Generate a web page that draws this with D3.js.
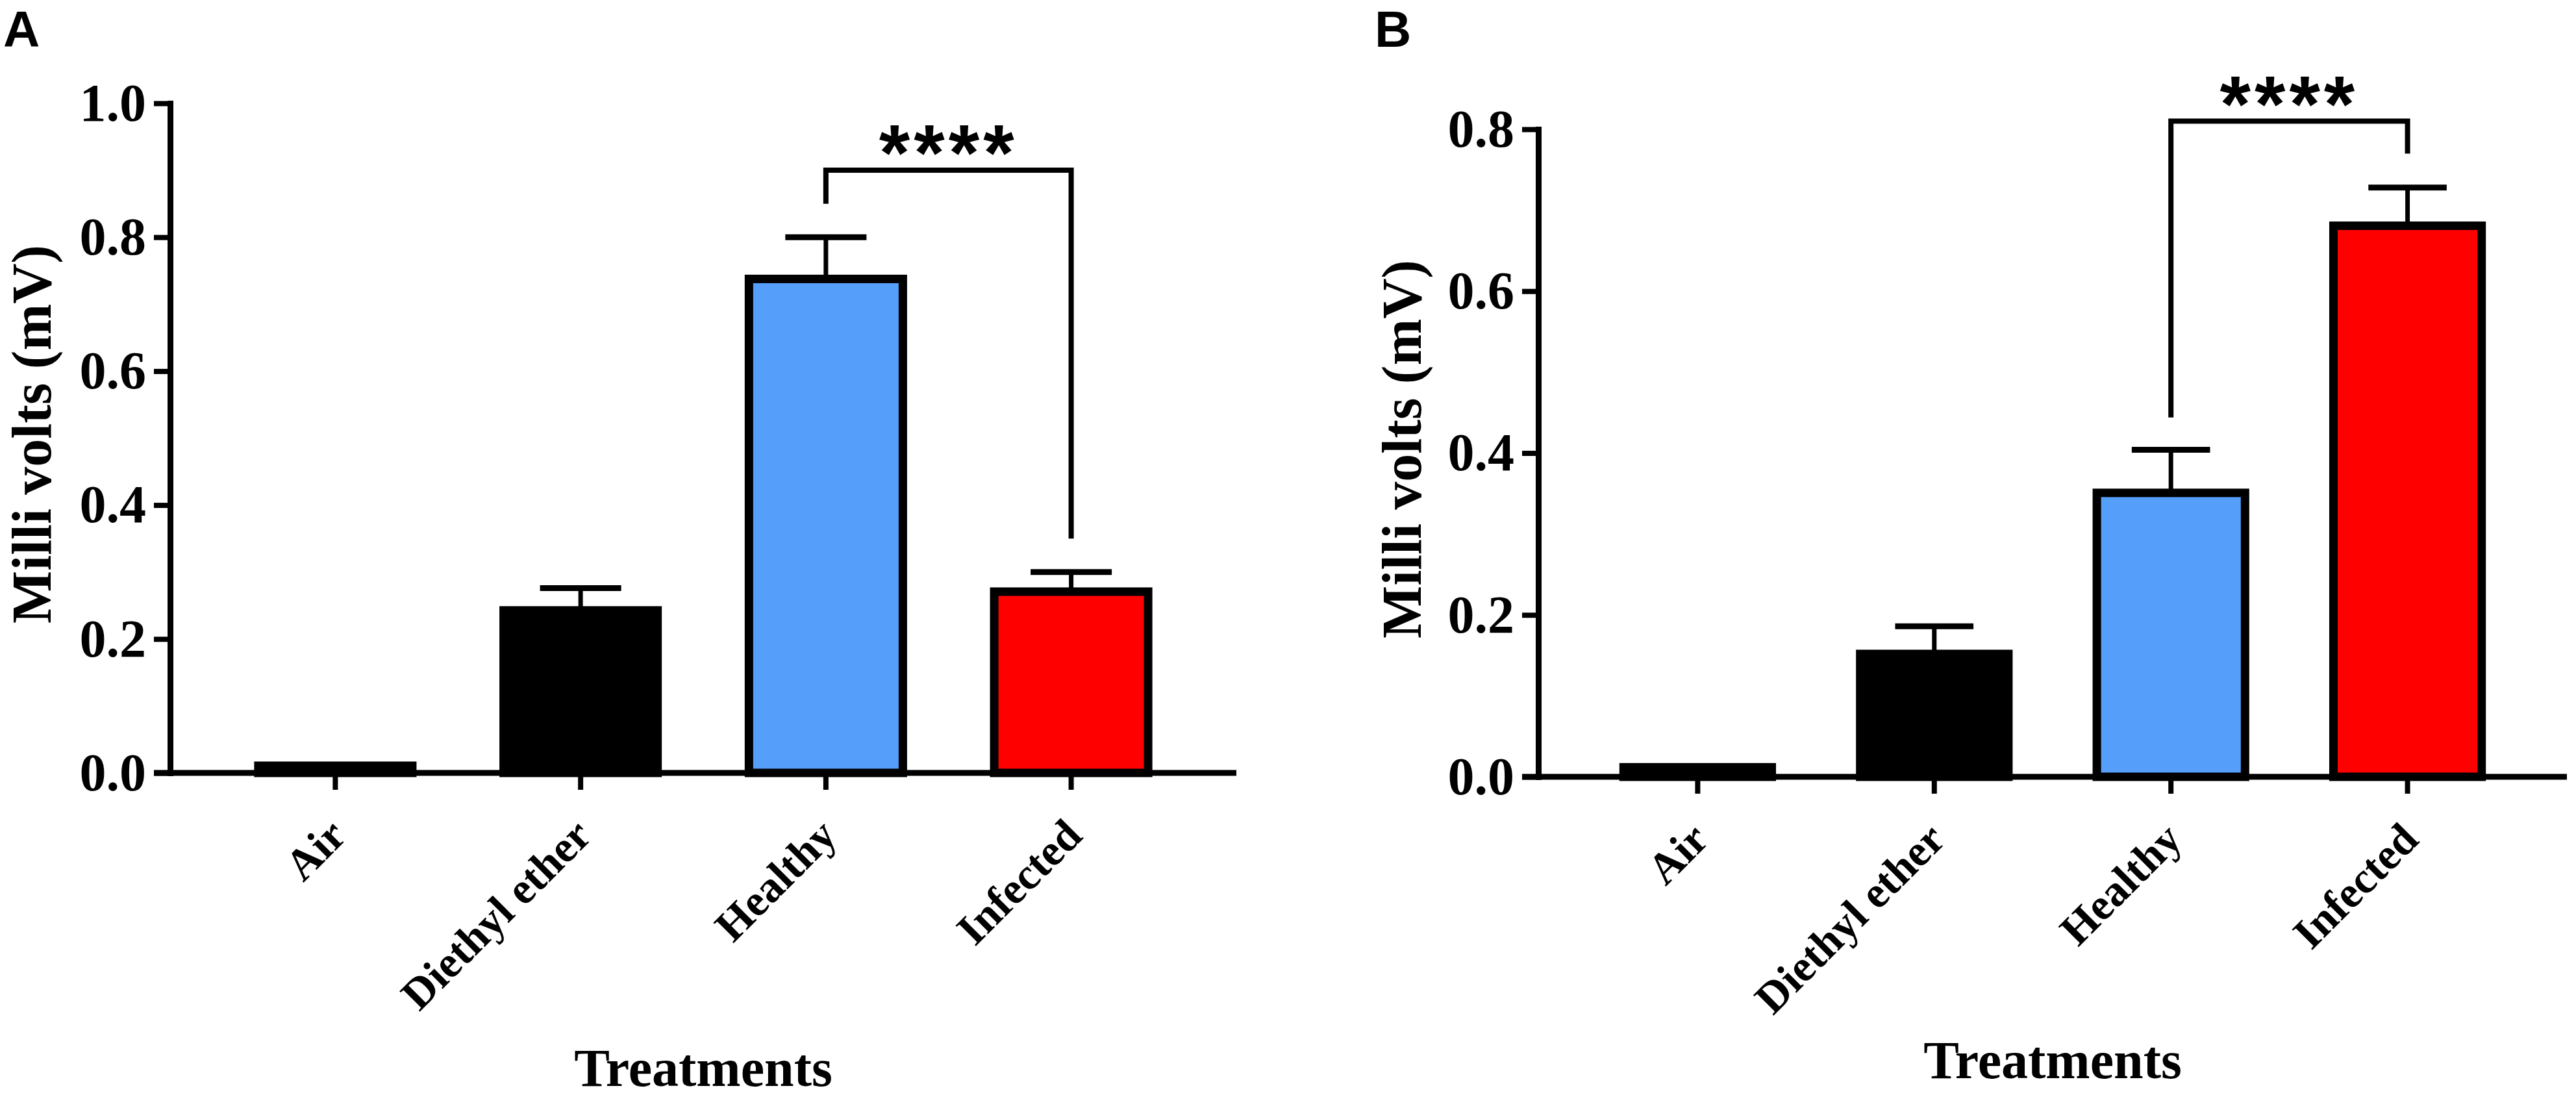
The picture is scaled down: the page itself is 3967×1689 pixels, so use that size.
<!DOCTYPE html>
<html lang="en">
<head>
    <meta charset="UTF-8">
    <title>Milli volts by treatment</title>
    <script src="https://d3js.org/d3.v7.min.js"></script>
    <style>
        body {
            margin: 0;
            background: #fff;
        }
        .serif {
            font-family: "Liberation Serif", "Times New Roman", serif;
            font-weight: bold;
            fill: #000;
        }
        .sans {
            font-family: "Liberation Sans", Arial, sans-serif;
            font-weight: bold;
            fill: #000;
        }
    </style>
</head>
<body>
    <div id="chart"></div>

    <script>
        // Data
        const categories = ["Air", "Diethyl ether", "Healthy", "Infected"];
        const barColors = ["#000000", "#000000", "#559ffb", "#ff0000"];

        // Panel A
        const meansA = [0.017, 0.249, 0.744, 0.277];
        const errTopA = [0.017, 0.276, 0.800, 0.300];
        const ticksA = [0.0, 0.2, 0.4, 0.6, 0.8, 1.0];
        const bracketA = [0.90, 0.85, 0.35];   // top, left end, right end

        // Panel B
        const meansB = [0.017, 0.157, 0.356, 0.686];
        const errTopB = [0.017, 0.186, 0.404, 0.728];
        const ticksB = [0.0, 0.2, 0.4, 0.6, 0.8];
        const bracketB = [0.81, 0.444, 0.77];

        const yTitle = "Milli volts (mV)";
        const xTitle = "Treatments";
        const sigLabel = "****";

        const W = 3967, H = 1689;
        const svg = d3.select("#chart")
            .append("svg")
            .attr("width", W)
            .attr("height", H);

        // Layout of the two panels (pixel positions)
        const panels = [
            { letter: "A", letterX: 5, means: meansA, errs: errTopA, ticks: ticksA, bracket: bracketA,
              left: 262, right: 1904, top: 159, bottom: 1190, ymax: 1.0, titleX: 78, xTitleY: 1672 },
            { letter: "B", letterX: 2117, means: meansB, errs: errTopB, ticks: ticksB, bracket: bracketB,
              left: 2369, right: 3953, top: 199, bottom: 1196, ymax: 0.8, titleX: 2188, xTitleY: 1660 }
        ];

        const lineW = 9;     // axis line
        const barStroke = 13;

        panels.forEach(p => {
            const g = svg.append("g");

            const x = d3.scaleBand()
                .domain(categories)
                .range([p.left, p.right])
                .paddingInner(0.338)
                .paddingOuter(0.3425);

            const y = d3.scaleLinear()
                .domain([0, p.ymax])
                .range([p.bottom, p.top]);

            const bw = x.bandwidth();

            // Bars
            g.selectAll(".bar")
                .data(categories)
                .enter()
                .append("rect")
                .attr("x", d => x(d) + barStroke / 2)
                .attr("width", bw - barStroke)
                .attr("y", (d, i) => y(p.means[i]) + barStroke / 2)
                .attr("height", (d, i) => Math.max(0, y(0) - y(p.means[i]) - barStroke / 2))
                .attr("fill", (d, i) => barColors[i])
                .attr("stroke", "#000")
                .attr("stroke-width", barStroke);

            // Error bars (upper only)
            categories.forEach((c, i) => {
                if (p.errs[i] <= p.means[i]) return;
                const cx = x(c) + bw / 2;
                g.append("line")
                    .attr("x1", cx).attr("x2", cx)
                    .attr("y1", y(p.means[i]) + barStroke / 2)
                    .attr("y2", y(p.errs[i]))
                    .attr("stroke", "#000")
                    .attr("stroke-width", 7);
                g.append("line")
                    .attr("x1", cx - bw * 0.25).attr("x2", cx + bw * 0.25)
                    .attr("y1", y(p.errs[i])).attr("y2", y(p.errs[i]))
                    .attr("stroke", "#000")
                    .attr("stroke-width", 9);
            });

            // Y axis
            const yAxis = g.append("g")
                .attr("transform", `translate(${p.left},0)`)
                .call(d3.axisLeft(y)
                    .tickValues(p.ticks)
                    .tickFormat(d3.format(".1f"))
                    .tickSize(25)
                    .tickSizeOuter(0)
                    .tickPadding(12));
            yAxis.select(".domain").attr("stroke-width", lineW).attr("stroke-linecap", "square");
            yAxis.selectAll(".tick line").attr("stroke-width", 8);
            yAxis.selectAll(".tick text")
                .attr("class", "serif")
                .style("font-size", "82px");

            // X axis
            const xAxis = g.append("g")
                .attr("transform", `translate(0,${p.bottom})`)
                .call(d3.axisBottom(x).tickSize(26).tickSizeOuter(0));
            xAxis.select(".domain").attr("stroke-width", lineW)
                .attr("d", `M${p.left - 25},0H${p.right}`);
            xAxis.selectAll(".tick line").attr("stroke-width", 8);
            xAxis.selectAll(".tick text")
                .attr("class", "serif")
                .style("font-size", "68px")
                .attr("text-anchor", "end")
                .attr("dy", null)
                .attr("y", null)
                .attr("transform", "translate(20,100) rotate(-45)");

            // Significance bracket
            const [bTop, bL, bR] = p.bracket;
            const xl = x("Healthy") + bw / 2;
            const xr = x("Infected") + bw / 2;
            g.append("path")
                .attr("d", `M${xl},${y(bL)}V${y(bTop)}H${xr}V${y(bR)}`)
                .attr("fill", "none")
                .attr("stroke", "#000")
                .attr("stroke-width", 8);
            g.append("text")
                .attr("class", "sans")
                .attr("x", (xl + xr) / 2)
                .attr("y", y(bTop) + 15)
                .attr("text-anchor", "middle")
                .style("font-size", "122px")
                .style("letter-spacing", "6px")
                .text(sigLabel);

            // Axis titles
            g.append("text")
                .attr("class", "serif")
                .attr("transform", `translate(${p.titleX},${(p.top + p.bottom) / 2 - 6}) rotate(-90)`)
                .attr("text-anchor", "middle")
                .style("font-size", "86px")
                .text(yTitle);

            g.append("text")
                .attr("class", "serif")
                .attr("x", (p.left + p.right) / 2)
                .attr("y", p.xTitleY)
                .attr("text-anchor", "middle")
                .style("font-size", "82px")
                .text(xTitle);

            // Panel letter
            g.append("text")
                .attr("class", "sans")
                .attr("x", p.letterX)
                .attr("y", 72)
                .style("font-size", "78px")
                .text(p.letter);
        });
    </script>
</body>
</html>
